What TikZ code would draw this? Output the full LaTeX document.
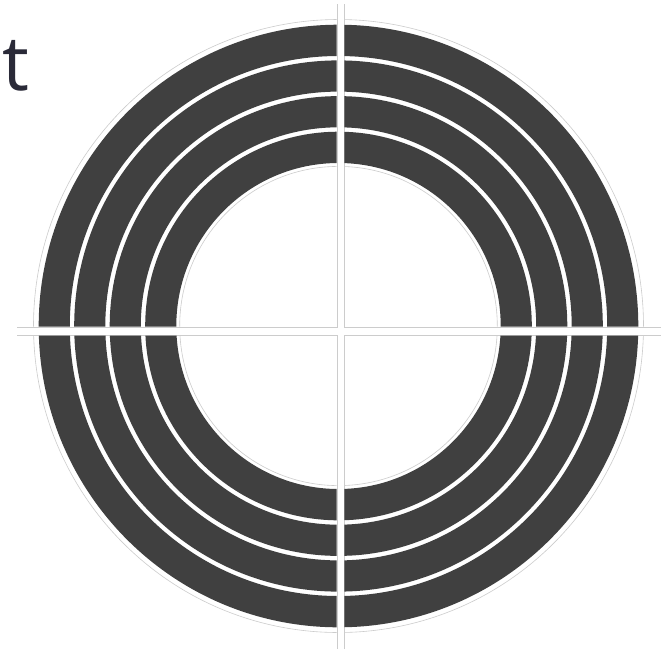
\documentclass[tikz,border=0pt]{standalone}
\usepackage{fontspec}
\setmainfont{Open Sans}
\definecolor{banddark}{HTML}{404040}
\definecolor{gridgray}{HTML}{CCCCCC}
\definecolor{titleink}{HTML}{2A2A38}
\begin{document}
\begin{tikzpicture}[x=1pt,y=-1pt,
  band/.style={fill=banddark,even odd rule},
  gridline/.style={draw=gridgray,line width=0.8pt},
  gridring/.style={draw=gridgray,line width=0.6pt}]
\useasboundingbox (0,0) rectangle (664,649);
\fill[white] (0,0) rectangle (664,649);
% centre of the rings and corners of the four quadrants
\coordinate (C) at (338.5,326);
\coordinate (TL) at (336.9,327.1);
\coordinate (TR) at (343.9,327.1);
\coordinate (BL) at (336.9,335.3);
\coordinate (BR) at (343.9,335.3);
\coordinate (TLup) at (336.9,4);
\coordinate (TLleft) at (17,327.1);
\coordinate (TRup) at (343.9,4);
\coordinate (TRright) at (660.7,327.1);
\coordinate (BLdown) at (336.9,649);
\coordinate (BLleft) at (17,335.3);
\coordinate (BRdown) at (343.9,649);
\coordinate (BRright) at (660.7,335.3);
% radial grid lines of each quadrant
\draw[gridline] (TLup) -- (TL) -- (TLleft);
\draw[gridline] (TRup) -- (TR) -- (TRright);
\draw[gridline] (BLdown) -- (BL) -- (BLleft);
\draw[gridline] (BRdown) -- (BR) -- (BRright);
\begin{scope}
  \clip (0,0) rectangle (336.5,326.7)
        (344.3,0) rectangle (664,326.7)
        (0,335.7) rectangle (336.5,649)
        (344.3,335.7) rectangle (664,649);
  \draw[gridring] (C) ellipse[x radius=305, y radius=306.5];
  \draw[gridring] (C) ellipse[x radius=158.8, y radius=159.6];
  \fill[band]
    (C) ellipse[x radius=299.8, y radius=301.3]
    (C) ellipse[x radius=268.7, y radius=270.0]
    (C) ellipse[x radius=264.3, y radius=265.6]
    (C) ellipse[x radius=233.2, y radius=234.4]
    (C) ellipse[x radius=228.8, y radius=229.9]
    (C) ellipse[x radius=197.7, y radius=198.7]
    (C) ellipse[x radius=193.3, y radius=194.3]
    (C) ellipse[x radius=162.2, y radius=163.0];
\end{scope}
\node[anchor=base west,inner sep=0pt,text=titleink,font=\fontsize{76}{76}\selectfont] (title) at (2.5,90) {t};
\end{tikzpicture}
\end{document}
